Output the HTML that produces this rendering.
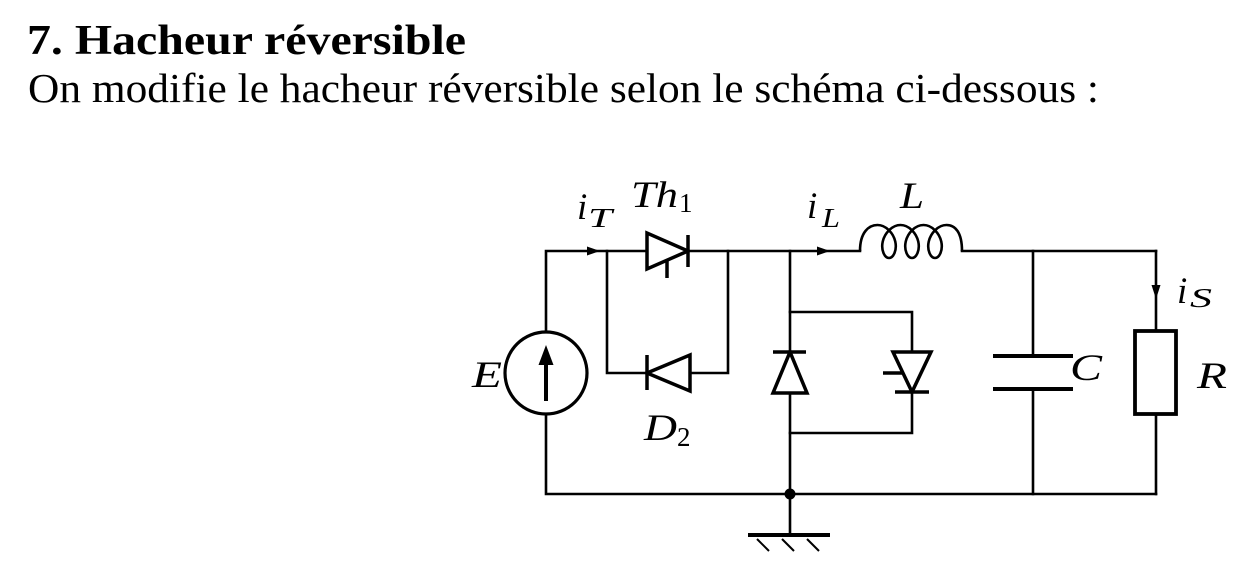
<!DOCTYPE html>
<html><head><meta charset="utf-8"><style>
html,body{margin:0;padding:0;background:#fff;}
svg{display:block;}
.t{font-family:"Liberation Serif",serif;fill:#000;}
.m{font-family:"Liberation Serif",serif;font-style:italic;fill:#000;}
.u{font-family:"Liberation Serif",serif;fill:#000;}
</style></head><body>
<svg width="1258" height="586" viewBox="0 0 1258 586" xmlns="http://www.w3.org/2000/svg">
<rect width="1258" height="586" fill="#fff"/>
<text class="t" x="27" y="54" font-size="42" font-weight="bold" textLength="439" lengthAdjust="spacingAndGlyphs">7. Hacheur réversible</text>
<text class="t" x="28" y="102" font-size="41" textLength="1071" lengthAdjust="spacingAndGlyphs">On modifie le hacheur réversible selon le schéma ci-dessous :</text>

<g fill="none" stroke="#000" stroke-width="2.6" stroke-linecap="square">
<!-- top wire -->
<polyline points="546,332 546,251 647,251"/>
<line x1="688" y1="251" x2="860" y2="251"/>
<line x1="962" y1="251" x2="1156" y2="251"/>
<line x1="1156" y1="251" x2="1156" y2="331"/>
<line x1="1156" y1="414" x2="1156" y2="494"/>
<!-- left bottom -->
<polyline points="546,414 546,494 1156,494"/>
<!-- inner parallel Th1/D2 -->
<polyline points="607,251 607,373 647,373"/>
<polyline points="690,373 728,373 728,251"/>
<!-- middle vertical -->
<line x1="790" y1="251" x2="790" y2="352"/>
<line x1="790" y1="393" x2="790" y2="535"/>
<!-- box -->
<polyline points="790,312 912,312 912,352"/>
<polyline points="912,392 912,433 790,433"/>
<!-- capacitor leads -->
<line x1="1033" y1="251" x2="1033" y2="356"/>
<line x1="1033" y1="389" x2="1033" y2="494"/>
<!-- inductor -->
<path d="M860 251 C860 232 869 225 877.5 225
C885.7 225 893.3 232.9 895.25 241.5 C897.2 250.1 893.4 258 889 258 C884.6 258 880.8 250.1 882.75 241.5 C884.7 232.9 892.3 225 900.5 225
C908.7 225 916.3 232.9 918.25 241.5 C920.2 250.1 916.4 258 912 258 C907.6 258 903.8 250.1 905.75 241.5 C907.7 232.9 915.3 225 923.5 225
C931.7 225 939.3 232.9 941.25 241.5 C943.2 250.1 939.4 258 935 258 C930.6 258 926.8 250.1 928.75 241.5 C930.7 232.9 938.3 225 946.5 225
C955 225 962 232 962 251" stroke-linecap="butt"/>
<!-- ground hatch -->
<line x1="757" y1="539" x2="769" y2="551" stroke-width="2" stroke-linecap="butt"/>
<line x1="782" y1="539" x2="794" y2="551" stroke-width="2" stroke-linecap="butt"/>
<line x1="807" y1="539" x2="819" y2="551" stroke-width="2" stroke-linecap="butt"/>
</g>

<g fill="none" stroke="#000" stroke-width="3.5" stroke-linejoin="miter">
<!-- Th1 -->
<polygon points="647,233 647,269 688,251" fill="#fff"/>
<line x1="688" y1="235" x2="688" y2="267"/>
<line x1="667" y1="260" x2="667" y2="278"/>
<!-- D2 -->
<polygon points="690,355 690,391 647,373" fill="#fff"/>
<line x1="647" y1="355" x2="647" y2="390"/>
<!-- diode on middle vertical (pointing up) -->
<polygon points="773,393 807,393 790,352" fill="#fff"/>
<line x1="773" y1="352" x2="806" y2="352"/>
<!-- right thyristor (pointing down) -->
<polygon points="893,352 931,352 912,392" fill="#fff"/>
<line x1="895" y1="392" x2="929" y2="392"/>
<line x1="883" y1="373" x2="903" y2="373"/>
<!-- source circle -->
<circle cx="546" cy="373" r="41" stroke-width="3.2"/>
<!-- capacitor plates -->
<line x1="993" y1="356" x2="1073" y2="356" stroke-width="4"/>
<line x1="993" y1="389" x2="1073" y2="389" stroke-width="4"/>
<!-- resistor -->
<rect x="1135" y="331" width="41" height="83" stroke-width="3.8"/>
<!-- ground bar -->
<line x1="748" y1="535" x2="830" y2="535" stroke-width="4"/>
</g>

<!-- source arrow -->
<line x1="546" y1="401" x2="546" y2="360" stroke="#000" stroke-width="4"/>
<polygon points="546,345 538.5,365 553.5,365" fill="#000"/>
<!-- current arrows -->
<polygon points="600,251 587,246.5 587,255.5" fill="#000"/>
<polygon points="830,251 817,246.5 817,255.5" fill="#000"/>
<polygon points="1156,299 1151.5,285 1160.5,285" fill="#000"/>
<!-- node dot -->
<circle cx="790" cy="494" r="5.5" fill="#000"/>

<!-- labels -->
<text class="m" x="577" y="219" font-size="37">i</text>
<text class="m" x="588" y="227" font-size="27" textLength="24" lengthAdjust="spacingAndGlyphs">T</text>
<text class="m" x="631" y="207" font-size="37" textLength="47" lengthAdjust="spacingAndGlyphs">Th</text>
<text class="u" x="679" y="212" font-size="27">1</text>
<text class="m" x="807" y="218" font-size="37">i</text>
<text class="m" x="822" y="227" font-size="27" textLength="18" lengthAdjust="spacingAndGlyphs">L</text>
<text class="m" x="900" y="208" font-size="37" textLength="24" lengthAdjust="spacingAndGlyphs">L</text>
<text class="m" x="472" y="387" font-size="37" textLength="30" lengthAdjust="spacingAndGlyphs">E</text>
<text class="m" x="644" y="440" font-size="37" textLength="33" lengthAdjust="spacingAndGlyphs">D</text>
<text class="u" x="677" y="446" font-size="27">2</text>
<text class="m" x="1070" y="380" font-size="37" textLength="32" lengthAdjust="spacingAndGlyphs">C</text>
<text class="m" x="1197" y="388" font-size="37" textLength="30" lengthAdjust="spacingAndGlyphs">R</text>
<text class="m" x="1177" y="303" font-size="37">i</text>
<text class="m" x="1190" y="307" font-size="27" textLength="22" lengthAdjust="spacingAndGlyphs">S</text>
</svg>
</body></html>
